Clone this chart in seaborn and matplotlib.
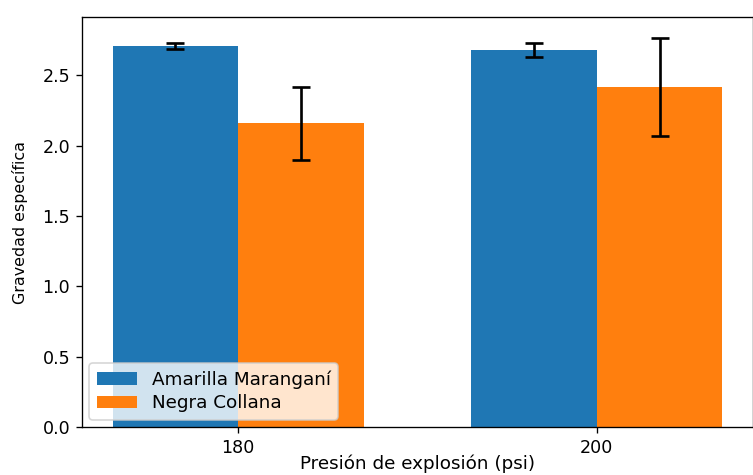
import matplotlib
matplotlib.use("Agg")
import matplotlib.pyplot as plt
import seaborn as sns
import pandas as pd
import numpy as np

# Specific gravity by explosion pressure and variety
presiones = ["180", "200"]
variedades = ["Amarilla Maranganí", "Negra Collana"]
media_amarilla = [2.71, 2.68]
media_negra = [2.16, 2.42]
error_amarilla = [0.02, 0.05]
error_negra = [0.26, 0.35]

df = pd.DataFrame({
    "Presión": presiones * 2,
    "Variedad": [variedades[0]] * 2 + [variedades[1]] * 2,
    "Gravedad": media_amarilla + media_negra,
})

fig = plt.figure(figsize=(753 / 120, 475 / 120), dpi=120)
ax = fig.add_axes([82 / 753, 48 / 475, 671 / 753, 410 / 475])

sns.barplot(data=df, x="Presión", y="Gravedad", hue="Variedad",
            palette=["#1f77b4", "#ff7f0e"], width=0.7, errorbar=None,
            saturation=1, ax=ax)

# Error bars centred on each dodged bar
ancho = 0.35
x = np.arange(len(presiones))
ax.errorbar(x - ancho / 2, media_amarilla, yerr=error_amarilla, fmt="none",
            ecolor="black", capsize=5.5, elinewidth=1.6, capthick=1.6)
ax.errorbar(x + ancho / 2, media_negra, yerr=error_negra, fmt="none",
            ecolor="black", capsize=5.5, elinewidth=1.6, capthick=1.6)

ax.set_xlim(-0.435, 1.435)
ax.set_ylim(0, 2.916)
ax.set_yticks([0, 0.5, 1.0, 1.5, 2.0, 2.5])
ax.tick_params(axis="both", labelsize=10.5)
ax.set_xlabel("Presión de explosión (psi)", fontsize=11, va="bottom")
ax.xaxis.set_label_coords(0.5, -46 / 410)
ax.set_ylabel("Gravedad específica", fontsize=9.5, labelpad=9)
ax.legend(loc="lower left", fontsize=11, labelspacing=0.3,
          handlelength=2.2, borderaxespad=0.4)

fig.savefig("out.png", dpi=120)
